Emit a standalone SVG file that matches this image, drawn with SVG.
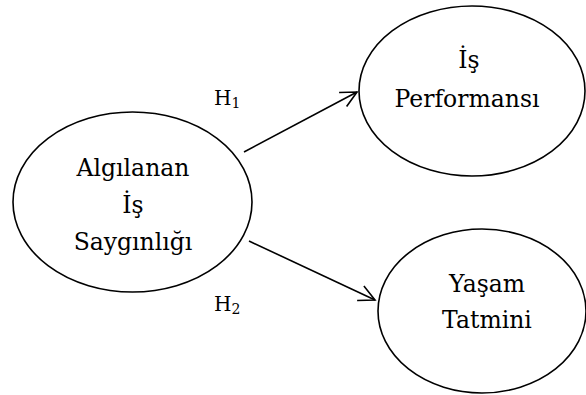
<svg xmlns="http://www.w3.org/2000/svg" width="586" height="395" viewBox="0 0 586 395">
<style>
.node ellipse{fill:#fff;stroke:#000;stroke-width:1.6}
.t{font-family:"DejaVu Serif","Liberation Serif",serif;font-size:23.5px;fill:#000;text-anchor:middle}
.h{font-family:"DejaVu Serif","Liberation Serif",serif;font-size:20px;fill:#000}
.sub{font-size:14px}
.edge{stroke:#000;stroke-width:1.6;fill:none}
</style>
<defs>
<marker id="arr" viewBox="0 0 20 20" refX="18" refY="10" markerWidth="20" markerHeight="20" markerUnits="userSpaceOnUse" orient="auto">
<path d="M2,2 L18,10 L2,18" fill="none" stroke="#000" stroke-width="1.6"/>
</marker>
</defs>
<rect width="586" height="395" fill="#fff"/>
<g id="connectors">
<line class="edge" x1="244" y1="152" x2="357" y2="92" marker-end="url(#arr)"/>
<line class="edge" x1="249" y1="241" x2="375" y2="300" marker-end="url(#arr)"/>
<text class="h" x="214" y="105">H<tspan class="sub" dy="3">1</tspan></text>
<text class="h" x="214" y="311">H<tspan class="sub" dy="3">2</tspan></text>
</g>
<g id="algilanan" class="node">
<ellipse cx="132.5" cy="202" rx="119.5" ry="90"/>
<text class="t" x="133" y="176">Algılanan</text>
<text class="t" x="133" y="213">İş</text>
<text class="t" x="133" y="250">Saygınlığı</text>
</g>
<g id="performans" class="node">
<ellipse cx="472" cy="91" rx="113" ry="85"/>
<text class="t" x="469" y="68">İş</text>
<text class="t" x="467" y="107">Performansı</text>
</g>
<g id="yasam" class="node">
<ellipse cx="482" cy="311" rx="104" ry="82"/>
<text class="t" x="487" y="292">Yaşam</text>
<text class="t" x="487" y="328">Tatmini</text>
</g>
</svg>
